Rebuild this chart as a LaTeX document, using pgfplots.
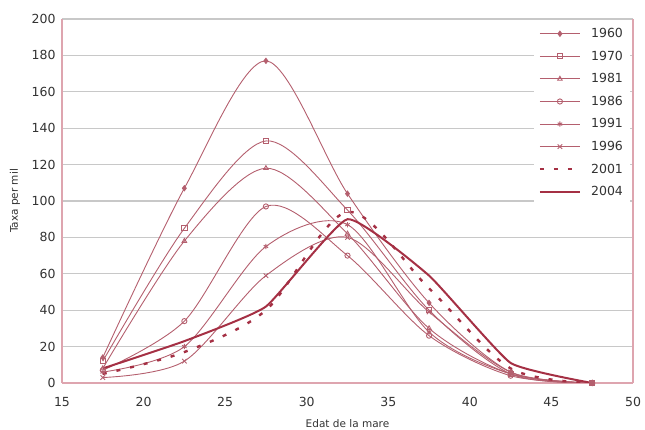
\documentclass[border=0pt]{standalone}
\usepackage{pgfplots}
\pgfplotsset{compat=1.18}
\usepackage{fontspec}
\setmainfont{DejaVu Sans}
\definecolor{ln}{RGB}{180,95,110}
\definecolor{dk}{RGB}{165,48,68}
\definecolor{grd}{RGB}{200,200,200}
\definecolor{axc}{RGB}{222,165,175}
\begin{document}
\begin{tikzpicture}
\useasboundingbox (-62pt,-47pt) rectangle (583pt,383pt);
\begin{axis}[
  scale only axis, width=571pt, height=364pt, at={(0pt,0pt)}, anchor=south west,
  xmin=15, xmax=50, ymin=0, ymax=200,
  axis x line*=bottom, axis y line*=left,
  xtick={15,20,...,50}, ytick={0,20,...,200},
  ymajorgrids, grid style={grd, line width=1.2pt},
  extra x ticks={50}, extra x tick labels={},
  extra x tick style={grid=major, major grid style={axc, line width=1.2pt}},
  axis line style={axc, line width=1.2pt},
  major tick length=0pt,
  /pgf/number format/assume math mode=true,
  tick label style={font=\fontsize{12.5}{15}\selectfont, text=black!80},
  yticklabel style={xshift=-3pt},
  xticklabel style={yshift=-11pt},
  every axis y label/.style={at={(axis description cs:0,0.5)}, xshift=-47pt, rotate=90, anchor=center, font=\fontsize{10.5}{13}\selectfont, text=black!80},
  every axis x label/.style={at={(axis description cs:0.5,0)}, yshift=-41pt, anchor=center, font=\fontsize{10.5}{13}\selectfont, text=black!80},
  xlabel={Edat de la mare}, ylabel={Taxa per mil},
  legend style={at={(axis description cs:0.995,0.994)}, anchor=north east, draw=none, fill=white,
    font=\fontsize{12.5}{15}\selectfont, text=black!80, row sep=7.8pt, inner sep=5pt,
    /tikz/every odd column/.append style={column sep=8pt}},
  legend cell align=left,
  legend image code/.code={\draw[mark repeat=2,mark phase=2,#1] plot coordinates {(0pt,0pt) (20pt,0pt) (40pt,0pt)};},
  every axis plot/.append style={smooth, tension=0.5, line width=0.9pt, mark size=2.6pt},
]
\addplot[ln, mark=diamond*, mark options={solid, fill=ln}] coordinates {(17.5,14) (22.5,107) (27.5,177) (32.5,104) (37.5,44) (42.5,6) (47.5,0)};
\addlegendentry{1960}
\addplot[ln, mark=square, mark options={solid}] coordinates {(17.5,12) (22.5,85) (27.5,133) (32.5,95) (37.5,40) (42.5,5) (47.5,0)};
\addlegendentry{1970}
\addplot[ln, mark=triangle, mark options={solid}] coordinates {(17.5,8) (22.5,78) (27.5,118) (32.5,82) (37.5,30) (42.5,5) (47.5,0)};
\addlegendentry{1981}
\addplot[ln, mark=o, mark options={solid}] coordinates {(17.5,7) (22.5,34) (27.5,97) (32.5,70) (37.5,26) (42.5,4) (47.5,0)};
\addlegendentry{1986}
\addplot[ln, mark=asterisk, mark options={solid}] coordinates {(17.5,6) (22.5,20) (27.5,75) (32.5,87) (37.5,28) (42.5,5) (47.5,0)};
\addlegendentry{1991}
\addplot[ln, mark=x, mark options={solid}, mark size=3.2pt] coordinates {(17.5,3) (22.5,12) (27.5,59) (32.5,80) (37.5,39) (42.5,6) (47.5,0)};
\addlegendentry{1996}
\addplot[dk, line width=2.4pt, dash pattern=on 4pt off 10pt, no marks] coordinates {(17.5,5) (22.5,17) (27.5,40) (32.5,94) (37.5,52) (42.5,8) (47.5,0)};
\addlegendentry{2001}
\addplot[dk, line width=2pt, no marks, tension=0.25] coordinates {(17.5,8) (22.5,23) (27.5,42) (32.5,90) (37.5,59) (42.5,11) (47.5,0)};
\addlegendentry{2004}
\end{axis}
\end{tikzpicture}
\end{document}
